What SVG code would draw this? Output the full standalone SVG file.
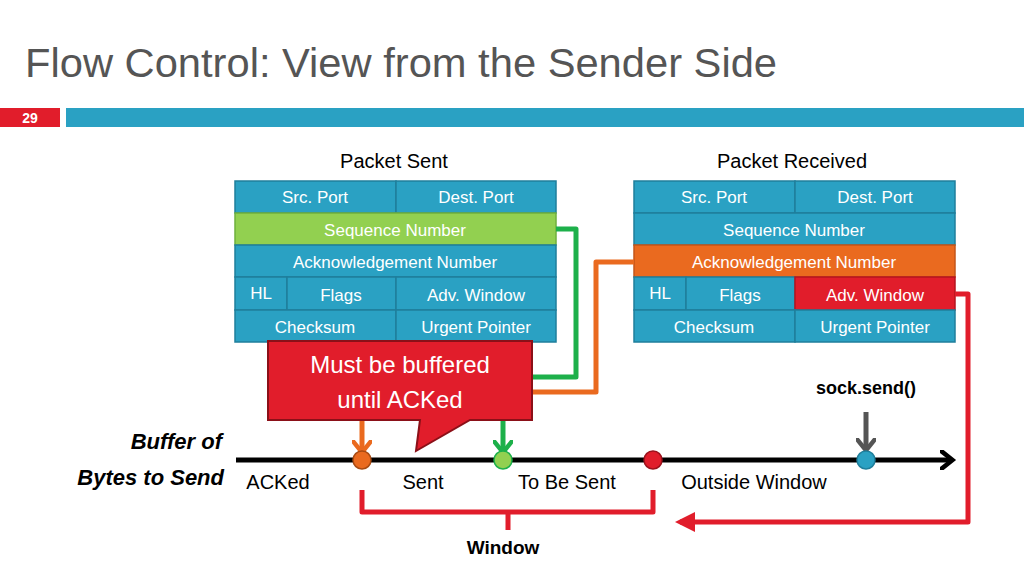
<svg xmlns="http://www.w3.org/2000/svg" width="1024" height="576" viewBox="0 0 1024 576">
<defs>
<style>
text{font-family:"Century Gothic","URW Gothic","Liberation Sans",sans-serif}
.c{fill:#2aa1c3;stroke:#1f7f9c;stroke-width:1.5}
.ct{fill:#fff;font-size:17px;text-anchor:middle}
.lb{fill:#000;font-size:20px;text-anchor:middle}
.ln{fill:none;stroke-width:5;stroke-linejoin:round}
</style>
<marker id="ah" markerWidth="4" markerHeight="4" refX="2" refY="2" orient="auto" markerUnits="strokeWidth"><path d="M0,0 L2.5,2 L0,4" fill="none" stroke="context-stroke" stroke-width="0.9"/></marker>
<marker id="fa" markerWidth="4" markerHeight="4" refX="3" refY="2" orient="auto" markerUnits="strokeWidth"><path d="M0,0 L4,2 L0,4Z" fill="#e11d2b"/></marker>
</defs>
<rect width="1024" height="576" fill="#fff"/>
<text x="25" y="77" font-size="40" fill="#555" textLength="752" lengthAdjust="spacingAndGlyphs">Flow Control: View from the Sender Side</text>
<rect x="0" y="108" width="60" height="19" fill="#e11d2b"/>
<text x="30" y="123" font-size="14" font-weight="bold" fill="#fff" text-anchor="middle">29</text>
<rect x="66" y="108" width="958" height="19" fill="#2aa1c3"/>
<g id="sent">
<text x="394" y="168" class="lb">Packet Sent</text>
<rect x="235" y="181" width="161" height="32" class="c"/><text x="315" y="203" class="ct">Src. Port</text>
<rect x="396" y="181" width="160" height="32" class="c"/><text x="476" y="203" class="ct">Dest. Port</text>
<rect x="235" y="213" width="321" height="32" fill="#92d050" stroke="#6fb03c" stroke-width="1.5"/><text x="395" y="236" class="ct">Sequence Number</text>
<rect x="235" y="245" width="321" height="32" class="c"/><text x="395" y="268" class="ct">Acknowledgement Number</text>
<rect x="235" y="277" width="52" height="33" class="c"/><text x="261" y="299" class="ct">HL</text>
<rect x="287" y="277" width="109" height="33" class="c"/><text x="341" y="301" class="ct">Flags</text>
<rect x="396" y="277" width="160" height="33" class="c"/><text x="476" y="301" class="ct">Adv. Window</text>
<rect x="235" y="310" width="161" height="32" class="c"/><text x="315" y="333" class="ct">Checksum</text>
<rect x="396" y="310" width="160" height="32" class="c"/><text x="476" y="333" class="ct">Urgent Pointer</text>
</g>
<g id="recv">
<text x="792" y="168" class="lb">Packet Received</text>
<rect x="634" y="181" width="161" height="32" class="c"/><text x="714" y="203" class="ct">Src. Port</text>
<rect x="795" y="181" width="160" height="32" class="c"/><text x="875" y="203" class="ct">Dest. Port</text>
<rect x="634" y="213" width="321" height="32" class="c"/><text x="794" y="236" class="ct">Sequence Number</text>
<rect x="634" y="245" width="321" height="32" fill="#ea6a1f" stroke="#c4561a" stroke-width="1.5"/><text x="794" y="268" class="ct">Acknowledgement Number</text>
<rect x="634" y="277" width="52" height="33" class="c"/><text x="660" y="299" class="ct">HL</text>
<rect x="686" y="277" width="109" height="33" class="c"/><text x="740" y="301" class="ct">Flags</text>
<rect x="795" y="277" width="160" height="33" fill="#e11d2b" stroke="#b5141f" stroke-width="1.5"/><text x="875" y="301" class="ct">Adv. Window</text>
<rect x="634" y="310" width="161" height="32" class="c"/><text x="714" y="333" class="ct">Checksum</text>
<rect x="795" y="310" width="160" height="32" class="c"/><text x="875" y="333" class="ct">Urgent Pointer</text>
</g>
<g id="connectors">
<path d="M556,229 H576 V377 H530" class="ln" stroke="#1db04a"/>
<path d="M634,262 H596 V392 H530" class="ln" stroke="#ea6a1f"/>
<path d="M955,294 H968 V522 H680" class="ln" stroke="#e11d2b" marker-end="url(#fa)"/>
<path d="M362,420 V450" class="ln" stroke="#ea6a1f" marker-end="url(#ah)"/>
<path d="M503,420 V450" class="ln" stroke="#1db04a" marker-end="url(#ah)"/>
<path d="M866,412 V448" class="ln" stroke="#555" marker-end="url(#ah)"/>
<path d="M236,460 H950" fill="none" stroke="#000" stroke-width="5" marker-end="url(#ah)"/>
<path d="M362,490 V512 H653 V490 M508,512 V530" class="ln" stroke="#e11d2b"/>
</g>
<g id="callout">
<path d="M268,341 H532 V420 H470 L416,451 L420,420 H268Z" fill="#e11d2b" stroke="#8b1018" stroke-width="2"/>
<text x="400" y="373" font-size="24" fill="#fff" text-anchor="middle">Must be buffered</text>
<text x="400" y="408" font-size="24" fill="#fff" text-anchor="middle">until ACKed</text>
</g>
<g id="points">
<circle cx="362" cy="460" r="9" fill="#ea6a1f" stroke="#a84a12" stroke-width="1.5"/>
<circle cx="503" cy="460" r="9" fill="#92d050" stroke="#1db04a" stroke-width="1.5"/>
<circle cx="653" cy="460" r="9" fill="#e11d2b" stroke="#9c121c" stroke-width="1.5"/>
<circle cx="866" cy="460" r="9" fill="#2aa1c3" stroke="#1f7f9c" stroke-width="1.5"/>
</g>
<g id="labels">
<text x="222" y="449" font-size="22" font-weight="bold" font-style="italic" text-anchor="end">Buffer of</text>
<text x="224" y="485" font-size="22" font-weight="bold" font-style="italic" text-anchor="end">Bytes to Send</text>
<text x="278" y="489" class="lb">ACKed</text>
<text x="423" y="489" class="lb">Sent</text>
<text x="567" y="489" class="lb">To Be Sent</text>
<text x="754" y="489" class="lb">Outside Window</text>
<text x="866" y="394" font-size="18" font-weight="bold" text-anchor="middle">sock.send()</text>
<text x="503" y="554" font-size="19" font-weight="bold" text-anchor="middle">Window</text>
</g>
</svg>
